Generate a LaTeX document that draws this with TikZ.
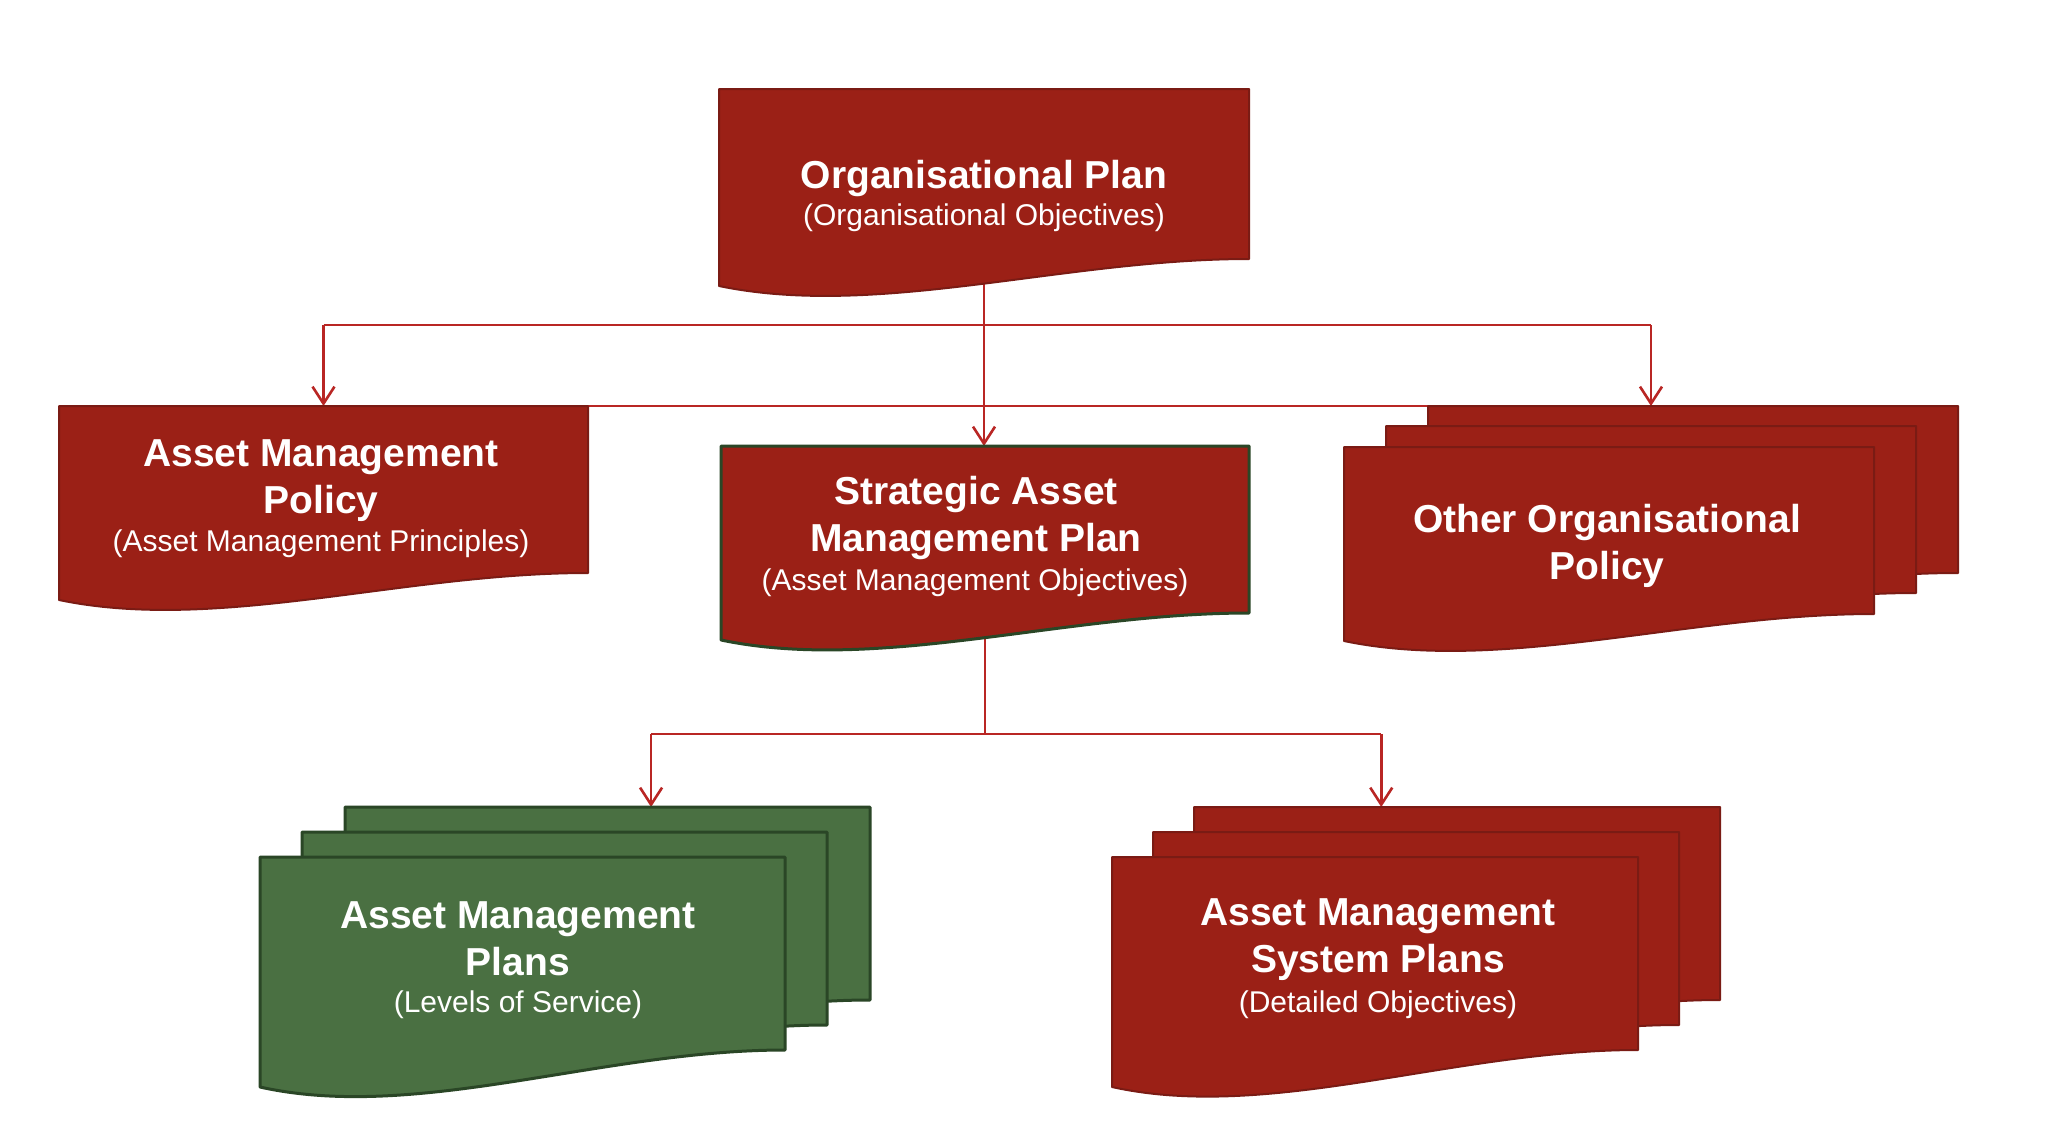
\documentclass[tikz,border=0pt]{standalone}
\usepackage{fontspec}
\setmainfont{Liberation Sans}
\usetikzlibrary{calc,arrows.meta}
\definecolor{docred}{RGB}{155,32,22}
\definecolor{docredline}{RGB}{122,27,20}
\definecolor{docgreen}{RGB}{74,112,66}
\definecolor{docgreenline}{RGB}{42,70,38}
\definecolor{connred}{RGB}{185,38,36}
\newcommand\docwave[4]{%
  \path[#2] (#1.north west) -- (#1.north east) -- (#1.south east)
    .. controls ($(#1.south east)!0.35!(#1.south west)$) and ($(#1.south east)!0.7!(#1.south west)+(0,#4)$) .. ($(#1.south west)+(0,#3)$) -- cycle;}
\begin{document}
\begin{tikzpicture}[x=1pt,y=-1pt,
  docbox/.style={rectangle,inner sep=0pt,outer sep=0pt,draw=none,anchor=north west},
  redfill/.style={fill=docred,draw=docredline,line width=2pt,line join=round},
  greenfill/.style={fill=docgreen,draw=docgreenline,line width=3pt,line join=round},
  sampfill/.style={fill=docred,draw=docgreenline,line width=3pt,line join=round},
  ttl/.style={text=white,align=center,inner sep=0pt,font=\fontsize{39}{47}\selectfont\bfseries},
  sub/.style={text=white,align=center,inner sep=0pt,font=\fontsize{30}{40}\selectfont},
  conn/.style={draw=connred,line width=2.6pt},
  arr/.style={conn,-{Straight Barb[length=17pt,width=22pt,line width=2.6pt]}}]
\useasboundingbox (0,0) rectangle (2062,1120);
\fill[white] (0,0) rectangle (2062,1120);
% placement boxes
\node[docbox,minimum width=530pt,minimum height=170pt] (org) at (719,89) {};
\node[docbox,minimum width=529pt,minimum height=167pt] (amp) at (59,406) {};
\node[docbox,minimum width=528pt,minimum height=167pt] (samp) at (721,446) {};
\node[docbox,minimum width=530pt,minimum height=167pt] (oth3) at (1428,406) {};
\node[docbox,minimum width=530pt,minimum height=167pt] (oth2) at (1386,426) {};
\node[docbox,minimum width=530pt,minimum height=167pt] (oth1) at (1344,447) {};
\node[docbox,minimum width=525pt,minimum height=193pt] (pl3) at (345,807) {};
\node[docbox,minimum width=525pt,minimum height=193pt] (pl2) at (302,832) {};
\node[docbox,minimum width=525pt,minimum height=193pt] (pl1) at (260,857) {};
\node[docbox,minimum width=526pt,minimum height=193pt] (sp3) at (1194,807) {};
\node[docbox,minimum width=526pt,minimum height=193pt] (sp2) at (1153,832) {};
\node[docbox,minimum width=526pt,minimum height=193pt] (sp1) at (1112,857) {};
\coordinate (hub) at (984,325);
\coordinate (bhub) at (984,734);
\coordinate (tipL) at ($(pl3.north west)!0.583!(pl3.north east)$);
\coordinate (tipR) at ($(sp3.north west)!0.356!(sp3.north east)$);
% connectors
\draw[arr] (org.south) -- (org.south |- samp.north);
\draw[conn] (amp.north |- hub) -- (oth2.north |- hub);
\draw[arr] (amp.north |- hub) -- (amp.north);
\draw[arr] (oth2.north |- hub) -- (oth2.north |- oth3.north);
\draw[conn] (amp.north east) -- (oth3.north west);
\draw[conn] (samp.south) -- (samp.south |- bhub);
\draw[conn] (tipL |- bhub) -- (tipR |- bhub);
\draw[arr] (tipL |- bhub) -- (tipL);
\draw[arr] (tipR |- bhub) -- (tipR);
% shapes
\docwave{org}{redfill}{27}{60}
\docwave{amp}{redfill}{27}{60}
\docwave{samp}{sampfill}{27}{60}
\docwave{oth3}{redfill}{27}{60}
\docwave{oth2}{redfill}{27}{60}
\docwave{oth1}{redfill}{27}{60}
\docwave{pl3}{greenfill}{37}{72}
\docwave{pl2}{greenfill}{37}{72}
\docwave{pl1}{greenfill}{37}{72}
\docwave{sp3}{redfill}{37}{72}
\docwave{sp2}{redfill}{37}{72}
\docwave{sp1}{redfill}{37}{72}
% texts
\node[ttl] (orgT) at (984,178) {Organisational Plan};
\node[sub] (orgS) at (984,218) {(Organisational Objectives)};
\node[ttl] (ampT) at (321,481) {Asset Management\\Policy};
\node[sub] (ampS) at (321,544) {(Asset Management Principles)};
\node[ttl] (sampT) at (976,518) {Strategic Asset\\Management Plan};
\node[sub] (sampS) at (975,583) {(Asset Management Objectives)};
\node[ttl] (othT) at (1607,546) {Other Organisational\\Policy};
\node[ttl] (plT) at (518,939) {Asset Management\\Plans};
\node[sub] (plS) at (518,1005) {(Levels of Service)};
\node[ttl] (spT) at (1378,940) {Asset Management\\System Plans};
\node[sub] (spS) at (1378,1005) {(Detailed Objectives)};
\end{tikzpicture}
\end{document}
